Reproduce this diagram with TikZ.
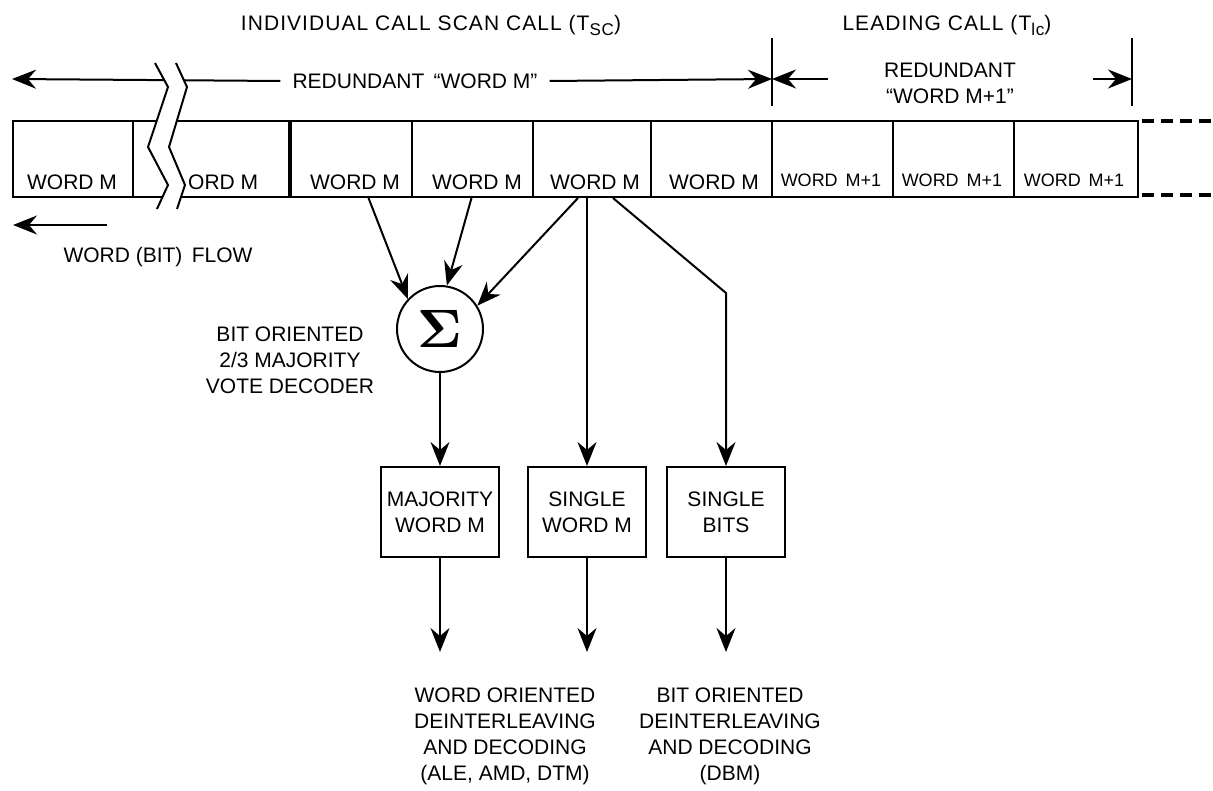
\documentclass[tikz,border=0pt]{standalone}
\usepackage[no-math]{fontspec}
\usepackage{graphicx}
\setmainfont{Liberation Sans}
\usetikzlibrary{arrows.meta,calc}
\begin{document}
\begin{tikzpicture}[x=1pt,y=-1pt,
  every node/.style={inner sep=0pt,font=\fontsize{21}{26}\selectfont},
  wire/.style={line width=2pt},
  arr/.style={wire,-{Stealth[length=24pt,width=19pt,inset=8pt]}},
  cell/.style={draw,line width=2pt,minimum height=76pt,anchor=north west},
  smallw/.style={font=\fontsize{18}{22}\selectfont},
  heading/.style={font=\fontsize{21}{26}\selectfont\addfontfeatures{LetterSpace=5}},
  procbox/.style={draw,line width=2pt,minimum width=118pt,minimum height=90pt,align=center},
  caption/.style={align=center},
  sumnode/.style={circle,draw,line width=2pt,minimum size=86pt,font=\fontsize{10}{12}\selectfont}]
\useasboundingbox (0,0) rectangle (1213,791);

% ---- headings ----
\node[heading] (tsc) at (431,25) {INDIVIDUAL CALL SCAN CALL (T\raisebox{-5pt}{\fontsize{17}{17}\selectfont SC})};
\node[heading] (tlc) at (947,25) {LEADING CALL (T\raisebox{-5pt}{\fontsize{17}{17}\selectfont lc})};

% ---- word cells ----
\node[cell,minimum width=120pt] (c1) at (12,120) {};
\node[cell,minimum width=158pt] (c2) at (132,120) {};
\node[cell,minimum width=121pt] (c3) at (290,120) {};
\node[cell,minimum width=121pt] (c4) at (411,120) {};
\node[cell,minimum width=118pt] (c5) at (532,120) {};
\node[cell,minimum width=121pt] (c6) at (650,120) {};
\node[cell,minimum width=121pt] (c7) at (771,120) {};
\node[cell,minimum width=121pt] (c8) at (892,120) {};
\node[cell,minimum width=124pt] (c9) at (1013,120) {};
\draw[line width=4pt] (c3.north west) -- (c3.south west);
\draw[line width=4pt,dash pattern=on 12pt off 7pt] (1142,121) -- (1213,121);
\draw[line width=4pt,dash pattern=on 12pt off 7pt] (1142,195) -- (1213,195);

\node (t1) at (72,182) {WORD M};
\node (t3) at (355,182) {WORD M};
\node (t4) at (477,182) {WORD M};
\node (t5) at (595,182) {WORD M};
\node (t6) at (714,182) {WORD M};
\node[smallw] (t7) at (831,180) {WORD\, M+1};
\node[smallw] (t8) at (952,180) {WORD\, M+1};
\node[smallw] (t9) at (1074,180) {WORD\, M+1};

% ---- dimension lines ----
\coordinate (dimL) at (12,79);
\coordinate (tickA) at (772,79);
\coordinate (tickB) at (1132,79);
\draw[wire] (772,38) -- (772,106);
\draw[wire] (1132,38) -- (1132,106);
\node (redM) at (415,81) {REDUNDANT \,“WORD M”};
\draw[arr] ($(redM.west)+(-12,0)$) -- (dimL);
\draw[arr] ($(redM.east)+(12,0)$) -- (tickA);
\node[caption] (redM1) at (950,83) {REDUNDANT\\“WORD M+1”};
\draw[arr] (828,79) -- (tickA);
\draw[arr] (1093,79) -- (tickB);

% ---- break marks ----
\fill[white] (155,63) -- (168,87) -- (148,147) -- (168,185) -- (157,209)
  -- (177,209) -- (185,185) -- (169,147) -- (187,87) -- (176,63) -- cycle;
\draw[wire,line join=miter] (155,63) -- (168,87) -- (148,147) -- (168,185) -- (157,209);
\draw[wire,line join=miter] (176,63) -- (187,87) -- (169,147) -- (185,185) -- (177,209);
\node[anchor=west] (t2) at (188,182) {ORD M};

% ---- flow direction ----
\coordinate (flowR) at (107,225);
\coordinate (flowL) at (13,225);
\draw[arr] (flowR) -- (flowL);
\node (flow) at (158,257) {WORD (BIT) \,FLOW};

% ---- majority vote decoder ----
\node[sumnode] (sum) at (440,329) {\scalebox{5.4}{$\mathbf{\Sigma}$}};
\node[caption] (vote) at (290,360) {BIT ORIENTED\\2/3 MAJORITY\\VOTE DECODER};
\draw[arr] ($(c3.south)+(17,0)$) -- (sum.137);
\draw[arr] ($(c4.south)+(-1,0)$) -- (sum.81);
\draw[arr] ($(c5.south)+(-14,0)$) -- (sum.32);

% ---- output boxes ----
\node[procbox] (maj) at (440,512) {MAJORITY\\WORD M};
\node[procbox] (sgl) at (587,512) {SINGLE\\WORD M};
\node[procbox] (bits) at (726,512) {SINGLE\\BITS};
\coordinate (bend) at (726,293);
\draw[arr] (sum.south) -- (maj.north);
\draw[arr] (sgl.north |- c5.south) -- (sgl.north);
\draw[arr] ($(c5.south)+(21,0)$) -- (bend) -- (bits.north);

% ---- downstream decoding ----
\coordinate (o1) at (440,652);
\coordinate (o2) at (587,652);
\coordinate (o3) at (726,652);
\draw[arr] (maj.south) -- (o1);
\draw[arr] (sgl.south) -- (o2);
\draw[arr] (bits.south) -- (o3);
\node[caption] (wdec) at (505,736) {WORD ORIENTED\\DEINTERLEAVING\\AND DECODING\\(ALE, AMD, DTM)};
\node[caption] (bdec) at (730,736) {BIT ORIENTED\\DEINTERLEAVING\\AND DECODING\\(DBM)};
\end{tikzpicture}
\end{document}
